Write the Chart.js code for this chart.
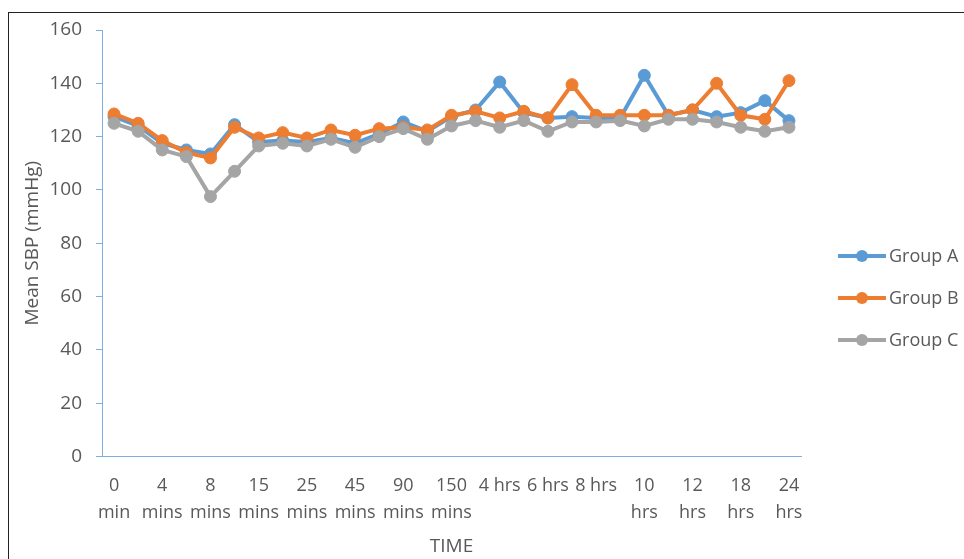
<!DOCTYPE html>
<html>
<head>
<meta charset="utf-8">
<script src="https://cdn.jsdelivr.net/npm/chart.js@4"></script>
<style>
  body { margin: 0; background: #fff; }
  #wrap { position: relative; width: 964px; height: 559px; }
  #frame { position: absolute; left: 8px; top: 12px; right: -2px; bottom: -2px; border-left: 1px solid #222; border-top: 1px solid #222; pointer-events: none; }
  canvas { position: absolute; left: 0; top: 0; }
</style>
</head>
<body>
<div id="wrap">
  <canvas id="sbpChart" width="964" height="559"></canvas>
  <div id="frame"></div>
</div>
<script>
    // --- DATA ---
    const categories = ['0 min', '2 mins', '4 mins', '6 mins', '8 mins', '10 mins', '15 mins', '20 mins', '25 mins', '30 mins',
        '45 mins', '60 mins', '90 mins', '120 mins', '150 mins', '3 hrs', '4 hrs', '5 hrs', '6 hrs', '7 hrs',
        '8 hrs', '9 hrs', '10 hrs', '11 hrs', '12 hrs', '15 hrs', '18 hrs', '21 hrs', '24 hrs'];

    // only every other category gets a label on the axis (like the original)
    const tickLabels = [['0', 'min'], '', ['4', 'mins'], '', ['8', 'mins'], '', ['15', 'mins'], '', ['25', 'mins'], '',
        ['45', 'mins'], '', ['90', 'mins'], '', ['150', 'mins'], '', '4 hrs', '', '6 hrs', '',
        '8 hrs', '', ['10', 'hrs'], '', ['12', 'hrs'], '', ['18', 'hrs'], '', ['24', 'hrs']];

    const groupA = [127.5, 124, 117.5, 115, 113.5, 124.5, 118, 118.5, 118, 119.5,
        117.5, 121, 125.5, 122, 127.5, 130, 140.5, 129, 127, 127.5,
        127, 127, 143, 128, 130, 127.5, 129, 133.5, 126];
    const groupB = [128.5, 125, 118.5, 114, 112, 123.5, 119.5, 121.5, 119.5, 122.5,
        120.5, 123, 123.5, 122.5, 128, 129.5, 127, 129.5, 127, 139.5,
        128, 128, 128, 128, 130, 140, 128, 126.5, 141];
    const groupC = [125, 122, 115, 112.5, 97.5, 107, 116.5, 117.5, 116.5, 119,
        116, 120, 123, 119, 124, 126, 123.5, 126, 122, 125.5,
        125.5, 126, 124, 126.5, 126.5, 125.5, 123.5, 122, 123.5];

    const yTicks = [0, 20, 40, 60, 80, 100, 120, 140, 160];

    const FONT = "'Open Sans', sans-serif";
    const TEXT = '#595959';
    const AXIS = '#7eb0de';

    function series(label, data, color, order) {
        return {
            label: label,
            data: data,
            borderColor: color,
            backgroundColor: color,
            pointBackgroundColor: color,
            pointBorderColor: color,
            borderWidth: 4,
            pointRadius: 6,
            pointBorderWidth: 1,
            tension: 0,
            fill: false,
            order: order
        };
    }

    // --- LEGEND (drawn on the right, line + marker like excel) ---
    const sideLegend = {
        id: 'sideLegend',
        afterDraw(chart) {
            const ctx = chart.ctx;
            const rows = [256, 298, 340];
            chart.data.datasets.forEach((ds, i) => {
                const y = rows[i];
                ctx.save();
                ctx.strokeStyle = ds.borderColor;
                ctx.lineWidth = 4;
                ctx.beginPath();
                ctx.moveTo(838, y);
                ctx.lineTo(886, y);
                ctx.stroke();
                ctx.fillStyle = ds.borderColor;
                ctx.beginPath();
                ctx.arc(862, y, 6, 0, Math.PI * 2);
                ctx.fill();
                ctx.fillStyle = TEXT;
                ctx.font = "18px " + FONT;
                ctx.textAlign = 'left';
                ctx.textBaseline = 'middle';
                ctx.fillText(ds.label, 889, y + 1);
                ctx.restore();
            });
        }
    };

    const ctx = document.getElementById('sbpChart').getContext('2d');
    const sbpChart = new Chart(ctx, {
        type: 'line',
        data: {
            labels: categories,
            datasets: [
                series('Group A', groupA, '#5b9bd5', 2),
                series('Group B', groupB, '#ed7d31', 1),
                series('Group C', groupC, '#a5a5a5', 0)
            ]
        },
        options: {
            responsive: false,
            animation: false,
            layout: { padding: { top: 30, right: 163, left: 0, bottom: 0 } },
            plugins: {
                legend: { display: false },
                tooltip: { enabled: false }
            },
            scales: {
                x: {
                    offset: true,
                    grid: { display: false },
                    border: { color: AXIS, width: 1 },
                    ticks: {
                        autoSkip: false,
                        maxRotation: 0,
                        minRotation: 0,
                        padding: 7,
                        color: TEXT,
                        font: { family: FONT, size: 18, lineHeight: 1.55 },
                        callback: (value, index) => tickLabels[index]
                    },
                    title: {
                        display: true,
                        text: 'TIME',
                        color: TEXT,
                        font: { family: FONT, size: 19 },
                        padding: { bottom: 1 }
                    },
                    afterFit: s => { s.height = 102.5; }
                },
                y: {
                    min: 0,
                    max: 160,
                    grid: { drawOnChartArea: false, drawTicks: true, tickLength: 6, color: AXIS },
                    border: { color: AXIS, width: 1 },
                    afterBuildTicks: s => { s.ticks = yTicks.map(v => ({ value: v })); },
                    ticks: {
                        padding: 14,
                        color: TEXT,
                        font: { family: FONT, size: 19 }
                    },
                    title: {
                        display: true,
                        text: 'Mean SBP (mmHg)',
                        color: TEXT,
                        font: { family: FONT, size: 19 },
                        padding: { top: 21 }
                    },
                    afterFit: s => { s.width = 102; }
                }
            }
        },
        plugins: [sideLegend]
    });
</script>
</body>
</html>
